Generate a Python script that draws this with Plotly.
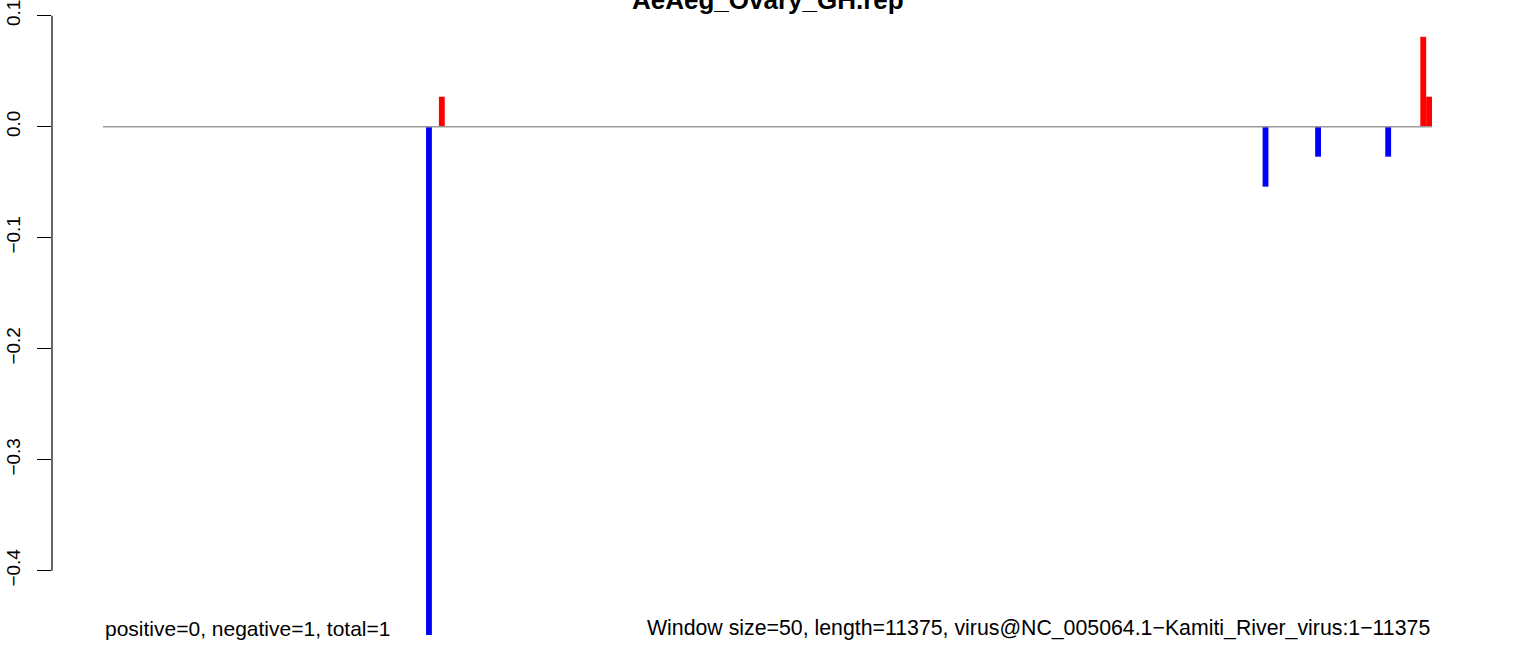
import plotly.graph_objects as go

# data
title = "AeAeg_Ovary_GH.rep"
seq_length = 11375
window = 50
pos_x = [2900, 11300, 11350]
pos_y = [0.027, 0.081, 0.027]
neg_x = [2790, 9950, 10400, 11000]
neg_y = [-0.458, -0.054, -0.027, -0.027]
y_ticks = [-0.4, -0.3, -0.2, -0.1, 0.0, 0.1]
left_note = "positive=0, negative=1, total=1"
right_note = ("Window size=50, length=11375, "
              "virus@NC_005064.1\u2212Kamiti_River_virus:1\u221211375")

fig = go.Figure()

# baseline across the genome
fig.add_trace(go.Scatter(
    x=[0, seq_length], y=[0, 0], mode="lines",
    line=dict(color="#9a9a9a", width=1.5), hoverinfo="skip",
))

fig.add_trace(go.Bar(x=pos_x, y=pos_y, width=window,
                     marker=dict(color="#ff0000", line_width=0)))
fig.add_trace(go.Bar(x=neg_x, y=neg_y, width=window,
                     marker=dict(color="#0000ff", line_width=0)))

fig.update_layout(
    width=1536, height=656,
    margin=dict(l=52, r=52, t=0, b=0, autoexpand=False),
    paper_bgcolor="white", plot_bgcolor="white",
    font=dict(family="Liberation Sans, Arial, sans-serif", color="black"),
    showlegend=False,
    barmode="overlay",
    xaxis=dict(range=[-436.5, 11820.1], visible=False, fixedrange=True),
    yaxis=dict(
        range=[-0.47685, 0.11414],
        tickvals=y_ticks, tickformat=".1f",
        ticks="outside", ticklen=14, tickwidth=1, tickcolor="black",
        tickangle=-90, tickfont=dict(size=19),
        ticklabelstandoff=9, ticklabeloverflow="allow",
        showgrid=False, zeroline=False, showline=False, automargin=False,
    ),
    shapes=[dict(type="line", xref="paper", yref="y",
                 x0=0, x1=0, y0=min(y_ticks), y1=max(y_ticks),
                 line=dict(color="black", width=1.2))],
    annotations=[
        dict(text=f"<b>{title}</b>", xref="paper", yref="paper",
             x=0.5, y=1.0, xanchor="center", yanchor="middle",
             showarrow=False, font=dict(size=26)),
        dict(text=left_note, xref="x", yref="y", x=0, y=-0.452,
             xanchor="left", yanchor="middle", showarrow=False,
             font=dict(size=21)),
        dict(text=right_note, xref="x", yref="y", x=seq_length, y=-0.452,
             xanchor="right", yanchor="middle", showarrow=False,
             font=dict(size=21.3)),
    ],
)

fig.write_html("out.html", config={"displayModeBar": False},
               post_script="document.body.style.margin='0';")
